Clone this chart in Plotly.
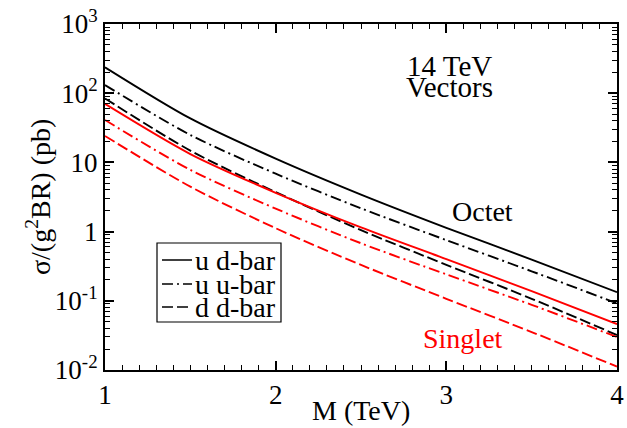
import plotly.graph_objects as go

# Data
M = [1.0, 1.5, 2.0, 2.5, 3.0, 3.5, 4.0]
octet_udbar = [237, 43.2, 11.35, 3.43, 1.135, 0.394, 0.133]
octet_uubar = [131, 24.9, 6.87, 2.17, 0.753, 0.267, 0.092]
octet_ddbar = [84, 14.8, 3.72, 1.05, 0.331, 0.107, 0.032]
singlet_udbar = [70, 13.2, 3.64, 1.15, 0.40, 0.138, 0.046]
singlet_uubar = [41, 7.8, 2.15, 0.679, 0.241, 0.0875, 0.030]
singlet_ddbar = [24.1, 4.46, 1.12, 0.330, 0.107, 0.0354, 0.0112]

y_tickvals = [0.01, 0.1, 1, 10, 100, 1000]
y_ticktext = ["10<sup>-2</sup>", "10<sup>-1</sup>", "1", "10", "10<sup>2</sup>", "10<sup>3</sup>"]
x_tickvals = [1, 2, 3, 4]
x_ticktext = ["1", "2", "3", "4"]

legend_labels = ["u d-bar", "u u-bar", "d d-bar"]

FONT = "'Liberation Serif', 'Times New Roman', 'DejaVu Serif', serif"
SOLID = "solid"
DASHDOT = "11px,4px,2px,4px"
DASHED = "11px,4px"

fig = go.Figure()

series = [
    (octet_udbar, "black", SOLID),
    (octet_uubar, "black", DASHDOT),
    (octet_ddbar, "black", DASHED),
    (singlet_udbar, "red", SOLID),
    (singlet_uubar, "red", DASHDOT),
    (singlet_ddbar, "red", DASHED),
]
for ys, col, dash in series:
    fig.add_trace(go.Scatter(
        x=M, y=ys, mode="lines",
        line=dict(color=col, width=1.9, dash=dash, shape="spline", smoothing=0.8),
        showlegend=False, hoverinfo="skip"))

axis_common = dict(
    showline=True, linecolor="black", linewidth=2, mirror="allticks",
    ticks="inside", tickcolor="black", tickwidth=1.5, ticklen=9,
    showgrid=False, zeroline=False, automargin=False,
    tickfont=dict(family=FONT, size=27, color="black"),
)

fig.update_xaxes(
    range=[1, 4], tickvals=x_tickvals, ticktext=x_ticktext,
    minor=dict(ticks="inside", ticklen=5, tickwidth=1.2, tickcolor="black", dtick=0.1, showgrid=False),
    **axis_common)
fig.update_yaxes(
    type="log", range=[-2, 3], tickvals=y_tickvals, ticktext=y_ticktext,
    minor=dict(ticks="inside", ticklen=5, tickwidth=1.2, tickcolor="black", dtick="D1", showgrid=False),
    **axis_common)

W, H = 627, 428
L, R, T, B = 105, 10, 24, 58
pw, ph = W - L - R, H - T - B

def px(x):
    return (x - L) / pw

def py(y):
    return 1 - (y - T) / ph

annotations = [
    dict(text="M (TeV)", x=px(361), y=py(410), xref="paper", yref="paper",
         showarrow=False, font=dict(family=FONT, size=28, color="black"),
         xanchor="center", yanchor="middle"),
    dict(text="σ/(g<sup>2</sup>BR) (pb)", x=px(38), y=py(197), xref="paper", yref="paper",
         showarrow=False, textangle=-90, font=dict(family=FONT, size=28, color="black"),
         xanchor="center", yanchor="middle"),
    dict(text="14 TeV", x=px(449), y=py(66), xref="paper", yref="paper",
         showarrow=False, font=dict(family=FONT, size=29, color="black"),
         xanchor="center", yanchor="middle"),
    dict(text="Vectors", x=px(449), y=py(87), xref="paper", yref="paper",
         showarrow=False, font=dict(family=FONT, size=29, color="black"),
         xanchor="center", yanchor="middle"),
    dict(text="Octet", x=px(482), y=py(211), xref="paper", yref="paper",
         showarrow=False, font=dict(family=FONT, size=28, color="black"),
         xanchor="center", yanchor="middle"),
    dict(text="Singlet", x=px(463), y=py(338), xref="paper", yref="paper",
         showarrow=False, font=dict(family=FONT, size=28, color="red"),
         xanchor="center", yanchor="middle"),
]

# manual legend box
shapes = [dict(type="rect", xref="paper", yref="paper",
               x0=px(157), x1=px(281), y0=py(243), y1=py(322),
               line=dict(color="black", width=1.2), fillcolor="white", layer="above")]
rows = [260, 284, 307]
for lab, dash, ry in zip(legend_labels, [SOLID, DASHDOT, DASHED], rows):
    shapes.append(dict(type="line", xref="paper", yref="paper",
                       x0=px(162), x1=px(192), y0=py(ry), y1=py(ry),
                       line=dict(color="black", width=1.5, dash=dash), layer="above"))
    annotations.append(dict(text=lab, x=px(193), y=py(ry), xref="paper", yref="paper",
                            showarrow=False, font=dict(family=FONT, size=28, color="black"),
                            xanchor="left", yanchor="middle"))

fig.update_layout(
    width=W, height=H,
    margin=dict(l=L, r=R, t=T, b=B),
    paper_bgcolor="white", plot_bgcolor="white",
    font=dict(family=FONT),
    showlegend=False,
    annotations=annotations, shapes=shapes,
)

fig.write_html("out.html")
